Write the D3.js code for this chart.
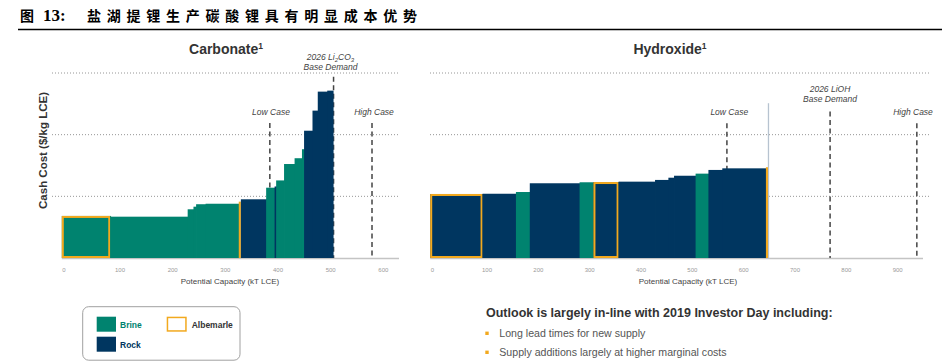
<!DOCTYPE html>
<html><head><meta charset="utf-8">
<script src="https://cdn.jsdelivr.net/npm/d3@7"></script>
<style>body{margin:0;background:#fff;} svg{display:block;font-family:"Liberation Sans",Arial,sans-serif;}</style>
</head><body><svg id="c" width="946" height="361"></svg>
<script>
// ---------- data ----------
const carbCapacity = [92,147,11,5,18,63,4,48,16,3,15,20,14,4,16,10,18,12];
const carbCost = [3.41,3.35,3.95,4.16,4.36,4.40,4.57,4.76,5.70,5.80,6.29,7.62,8.09,8.82,10.32,11.95,13.49,13.57];
const carbType = ["Brine","Brine","Brine","Brine","Brine","Brine","Brine","Rock","Brine","Rock","Brine","Brine","Brine","Brine","Rock","Rock","Rock","Rock"];
const carbAlbemarle = [true,false,false,false,false,false,true,false,false,false,false,false,false,false,false,false,false,false];

const hydCapacity = [102,65,27,97,27,49,71,26,11,42,25,27,85,4];
const hydCost = [5.19,5.21,5.35,6.06,6.14,6.16,6.19,6.33,6.51,6.67,6.84,7.14,7.27,7.36];
const hydType = ["Rock","Rock","Brine","Rock","Brine","Rock","Rock","Rock","Rock","Rock","Brine","Rock","Rock","Rock"];
const hydAlbemarle = [true,false,false,false,false,true,false,false,false,false,false,false,false,true];

const carbTicks = [0,100,200,300,400,500,600];
const hydTicks = [0,100,200,300,400,500,600,700,800,900];
const gridValues = [5,10,15];

const carbMarkerNames = ["Low Case","2026 Li2CO3|Base Demand","High Case"];
const carbMarkerValues = [395,516,589];
const hydMarkerNames = ["Low Case","2026 LiOH|Base Demand","High Case"];
const hydMarkerValues = [578,779,948];

const legendNames = ["Brine","Rock","Albemarle"];
const bullets = ["Long lead times for new supply","Supply additions largely at higher marginal costs"];

// ---------- styles ----------
const colors = {Brine:"#00836f", Rock:"#003660"};
const orange = "#f2a91e";

const svg = d3.select("#c");

// header
svg.append("text").attr("x",20).attr("y",20.5).attr("font-family","'Noto Sans CJK SC',sans-serif")
  .attr("font-weight","bold").attr("font-size",14).attr("fill","#000").text("图");
svg.append("text").attr("x",43).attr("y",20.5).attr("font-family","'Liberation Serif',serif")
  .attr("font-weight","bold").attr("font-size",17).attr("fill","#000").text("13:");
svg.append("text").attr("x",87).attr("y",20.5).attr("font-family","'Noto Sans CJK SC',sans-serif")
  .attr("font-weight","bold").attr("font-size",14).attr("fill","#000")
  .attr("textLength",330).attr("lengthAdjust","spacing").text("盐湖提锂生产碳酸锂具有明显成本优势");
svg.append("line").attr("x1",18).attr("x2",942).attr("y1",29.5).attr("y2",29.5).attr("stroke","#000").attr("stroke-width",1.5);

const y = d3.scaleLinear().domain([0,15]).range([258,73]);

function panel(o){
  const g = svg.append("g");
  const x = o.x;
  // gridlines
  g.selectAll("line.grid").data(gridValues).join("line")
    .attr("x1",o.gridX0).attr("x2",o.gridX1).attr("y1",d=>y(d)).attr("y2",d=>y(d))
    .attr("stroke","#8a8a8a").attr("stroke-width",0.9).attr("stroke-dasharray","1,2");
  // baseline
  g.append("line").attr("x1",x(0)).attr("x2",o.baseX1).attr("y1",y(0)+0.5).attr("y2",y(0)+0.5)
    .attr("stroke","#c4c4c4").attr("stroke-width",1.5);
  // marker dashed lines
  o.markerValues.forEach((v,i)=>{
    g.append("line").attr("x1",x(v)).attr("x2",x(v)).attr("y1",y(o.markerTop[i])).attr("y2",y(0))
      .attr("stroke","#444").attr("stroke-width",1.5).attr("stroke-dasharray","5,3.5");
  });
  if(o.grayLine){
    let tot = d3.sum(o.caps);
    g.append("line").attr("x1",x(tot)+0.5).attr("x2",x(tot)+0.5).attr("y1",y(12.55)).attr("y2",y(0))
      .attr("stroke","#b7c3d0").attr("stroke-width",1.3);
  }
  // bars
  let cum = 0;
  const bars = o.caps.map((c,i)=>{const s=cum; cum+=c; return {s,e:cum,cost:o.costs[i],type:o.types[i],alb:o.alb[i]};});
  bars.forEach((b,i)=>{
    const bx = x(b.s), bw = x(b.e)-x(b.s), by = y(b.cost), bh = y(0)-y(b.cost);
    const ext = i < bars.length-1 ? 0.8 : 0;
    if(b.alb && bw < 4){
      g.append("rect").attr("x",bx).attr("y",by).attr("width",bw).attr("height",bh).attr("fill",orange);
    } else {
      g.append("rect").attr("x",bx).attr("y",by).attr("width",bw+ext).attr("height",bh).attr("fill",colors[b.type]);
      if(b.alb){
        g.append("rect").attr("x",bx+1).attr("y",by+1).attr("width",bw-2).attr("height",bh-2)
          .attr("fill","none").attr("stroke",orange).attr("stroke-width",2);
      }
    }
  });
  // marker labels
  o.markerNames.forEach((n,i)=>{
    const parts = n.split("|");
    const lx = o.labelX[i];
    if(parts.length===1){
      g.append("text").attr("x",lx).attr("y",o.labelY[i]).attr("text-anchor","middle")
        .attr("font-style","italic").attr("font-size",8.5).attr("fill","#444").text(parts[0]);
    } else {
      const t1 = g.append("text").attr("x",lx).attr("y",o.labelY[i]-10.5).attr("text-anchor","middle")
        .attr("font-style","italic").attr("font-size",8.5).attr("fill","#444");
      const m = parts[0].match(/^(.*Li)2CO3$/);
      if(m){
        t1.append("tspan").text(m[1]);
        t1.append("tspan").attr("font-size",6).attr("dy",2).text("2");
        t1.append("tspan").attr("dy",-2).text("CO");
        t1.append("tspan").attr("font-size",6).attr("dy",2).text("3");
      } else t1.text(parts[0]);
      g.append("text").attr("x",lx).attr("y",o.labelY[i]).attr("text-anchor","middle")
        .attr("font-style","italic").attr("font-size",8.5).attr("fill","#444").text(parts[1]);
    }
  });
  // axis tick labels
  const ax = d3.axisBottom(x).tickValues(o.ticks).tickSize(0).tickPadding(0).tickFormat(d3.format("d"));
  const ag = g.append("g").attr("transform","translate(0,271.5)").call(ax);
  ag.select(".domain").remove();
  ag.attr("font-size",6).attr("font-family",null).attr("color","#9a9a9a");
  ag.selectAll("text").attr("dy",0).attr("text-anchor","start");
  // axis title
  g.append("text").attr("x",o.axisTitleX).attr("y",284).attr("text-anchor","middle")
    .attr("font-size",8).attr("fill","#444").text("Potential Capacity (kT LCE)");
  // panel title
  const tt = g.append("text").attr("x",o.titleX).attr("y",54).attr("text-anchor","middle")
    .attr("font-weight","bold").attr("font-size",14).attr("fill","#333");
  tt.append("tspan").text(o.title);
  tt.append("tspan").attr("font-size",8.5).attr("dy",-5).text("1");
}

panel({
  x: d3.scaleLinear().domain([0,600]).range([61.8,377.8]),
  caps: carbCapacity, costs: carbCost, types: carbType, alb: carbAlbemarle,
  ticks: carbTicks, gridX0: 52, gridX1: 400, baseX1: 399,
  markerValues: carbMarkerValues, markerNames: carbMarkerNames, markerTop: [10.95,14.7,10.95],
  labelX: [271,330.5,374], labelY: [115,70.3,115],
  axisTitleX: 230, titleX: 226, title: "Carbonate", grayLine:false
});
panel({
  x: d3.scaleLinear().domain([0,900]).range([430.2,892.2]),
  caps: hydCapacity, costs: hydCost, types: hydType, alb: hydAlbemarle,
  ticks: hydTicks, gridX0: 430, gridX1: 930, baseX1: 923,
  markerValues: hydMarkerValues, markerNames: hydMarkerNames, markerTop: [10.92,11.87,10.92],
  labelX: [729.3,830,913], labelY: [115,102,115],
  axisTitleX: 688, titleX: 670, title: "Hydroxide", grayLine:true
});

// y axis title
svg.append("text").attr("transform","translate(46.7,150.5) rotate(-90)").attr("text-anchor","middle")
  .attr("font-weight","bold").attr("font-size",11.5).attr("fill","#333").text("Cash Cost ($/kg LCE)");

// legend
const lg = svg.append("g");
lg.append("rect").attr("x",82.7).attr("y",306.7).attr("width",157.3).attr("height",53.5).attr("rx",6)
  .attr("fill","none").attr("stroke","#a0a0a0").attr("stroke-width",1);
const legendPos = [{sx:96.7,sy:316.7,tx:120,ty:328},{sx:96.7,sy:336.7,tx:120,ty:348},{sx:166.7,sy:316.7,tx:191.7,ty:327.5}];
legendNames.forEach((n,i)=>{
  const p = legendPos[i];
  if(n==="Albemarle"){
    lg.append("rect").attr("x",p.sx+0.75).attr("y",p.sy+0.75).attr("width",18.5).attr("height",13.5)
      .attr("fill","#fff").attr("stroke",orange).attr("stroke-width",1.5);
  } else {
    lg.append("rect").attr("x",p.sx).attr("y",p.sy).attr("width",19.3).attr("height",15).attr("fill",colors[n]);
  }
  lg.append("text").attr("x",p.tx).attr("y",p.ty).attr("font-weight","bold").attr("font-size",8.5)
    .attr("fill", n==="Albemarle" ? "#333" : colors[n]).text(n);
});

// outlook text
svg.append("text").attr("x",486).attr("y",316.6).attr("font-weight","bold").attr("font-size",12.5)
  .attr("fill","#333").text("Outlook is largely in-line with 2019 Investor Day including:");
bullets.forEach((b,i)=>{
  const cy = [333.3,352.3][i];
  svg.append("rect").attr("x",485.3).attr("y",cy-1.7).attr("width",3.4).attr("height",3.4).attr("fill",orange);
  svg.append("text").attr("x",499.3).attr("y",cy+3.7).attr("font-size",10.6).attr("fill","#555").text(b);
});
</script></body></html>
